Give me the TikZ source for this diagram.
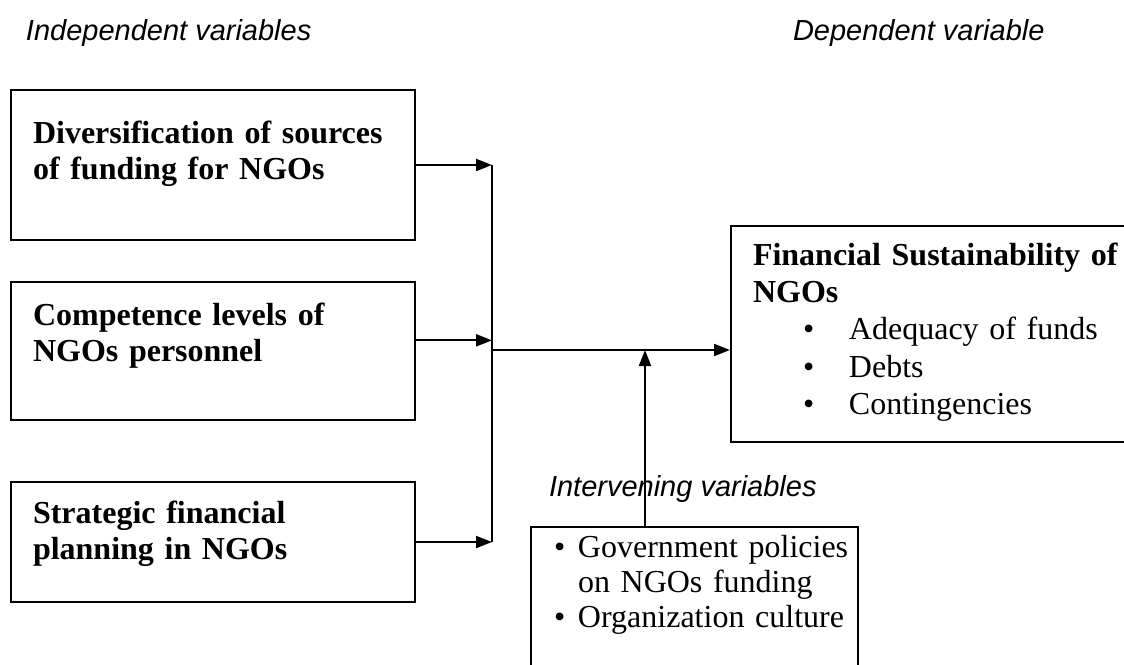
\documentclass[tikz,border=0pt]{standalone}
\usepackage{fontspec}
\setmainfont{Liberation Serif}
\newfontfamily\arialfont{Liberation Sans}
\usetikzlibrary{arrows.meta,positioning}

\begin{document}
\begin{tikzpicture}[
    x=0.75pt, y=-0.75pt,
    line width=1.5pt,
    panel/.style={draw, inner sep=0pt, minimum width=303pt},
    boxtext/.style={anchor=base west, inner sep=0pt, align=left, text width=320pt,
      font=\fontsize{24}{27}\selectfont\bfseries},
    listtext/.style={anchor=base west, inner sep=0pt, align=left, text width=320pt,
      font=\fontsize{24}{28}\selectfont},
    heading/.style={anchor=base west, inner sep=0pt,
      font=\arialfont\itshape\fontsize{21.75}{26}\selectfont},
    arrow/.style={-{Triangle[length=12pt,width=9pt]}}
  ]
    \clip (0,0) rectangle (1124,664);

    % headings
    \node[heading] (indep) at (25,40) {Independent variables};
    \node[heading] (dep) at (792,40) {Dependent variable};

    % independent variables
    \node[panel, minimum height=112.5pt] (div) at (213,165) {};
    \node[panel, minimum height=103.5pt] (comp) at (213,351) {};
    \node[panel, minimum height=90pt] (plan) at (213,542) {};
    \node[boxtext] (divtext) at (32,143) {Diversification of sources\\of funding for NGOs};
    \node[boxtext] (comptext) at (32,325) {Competence levels of\\NGOs personnel};
    \node[boxtext] (plantext) at (32,523) {Strategic financial\\planning in NGOs};

    % dependent variable
    \node[panel, minimum width=306.75pt, minimum height=162pt] (fin) at (935.5,334) {};
    \node[listtext] (fintext) at (752,265)
      {\textbf{Financial Sustainability of}\\\textbf{NGOs}\\
       \makebox[72pt][l]{\hspace{37.5pt}\textbullet}Adequacy of funds\\
       \makebox[72pt][l]{\hspace{37.5pt}\textbullet}Debts\\
       \makebox[72pt][l]{\hspace{37.5pt}\textbullet}Contingencies};

    % intervening variables
    \node[heading] (intervlabel) at (548,496) {Intervening variables};
    \node[panel, minimum width=245.25pt, minimum height=114.75pt] (inter) at (694.5,603.5) {};
    \node[listtext, font=\fontsize{24}{26.25}\selectfont] (intertext) at (553,557)
      {\makebox[18pt][l]{\textbullet}Government policies\\
       \hspace*{18pt}on NGOs funding\\
       \makebox[18pt][l]{\textbullet}Organization culture};

    \coordinate (hub) at (492,350);
    \coordinate (meet) at (645,350);

    \draw[arrow] (div.east) -- (div.east -| hub);
    \draw[arrow] ([yshift=8pt]comp.east) -- ([yshift=8pt]comp.east -| hub);
    \draw[arrow] (plan.east) -- (plan.east -| hub);
    \draw (div.east -| hub) -- (plan.east -| hub);
    \draw[arrow] (hub) -- (hub -| fin.west);
    \draw[arrow] (meet |- inter.north) -- (meet);
\end{tikzpicture}
\end{document}
